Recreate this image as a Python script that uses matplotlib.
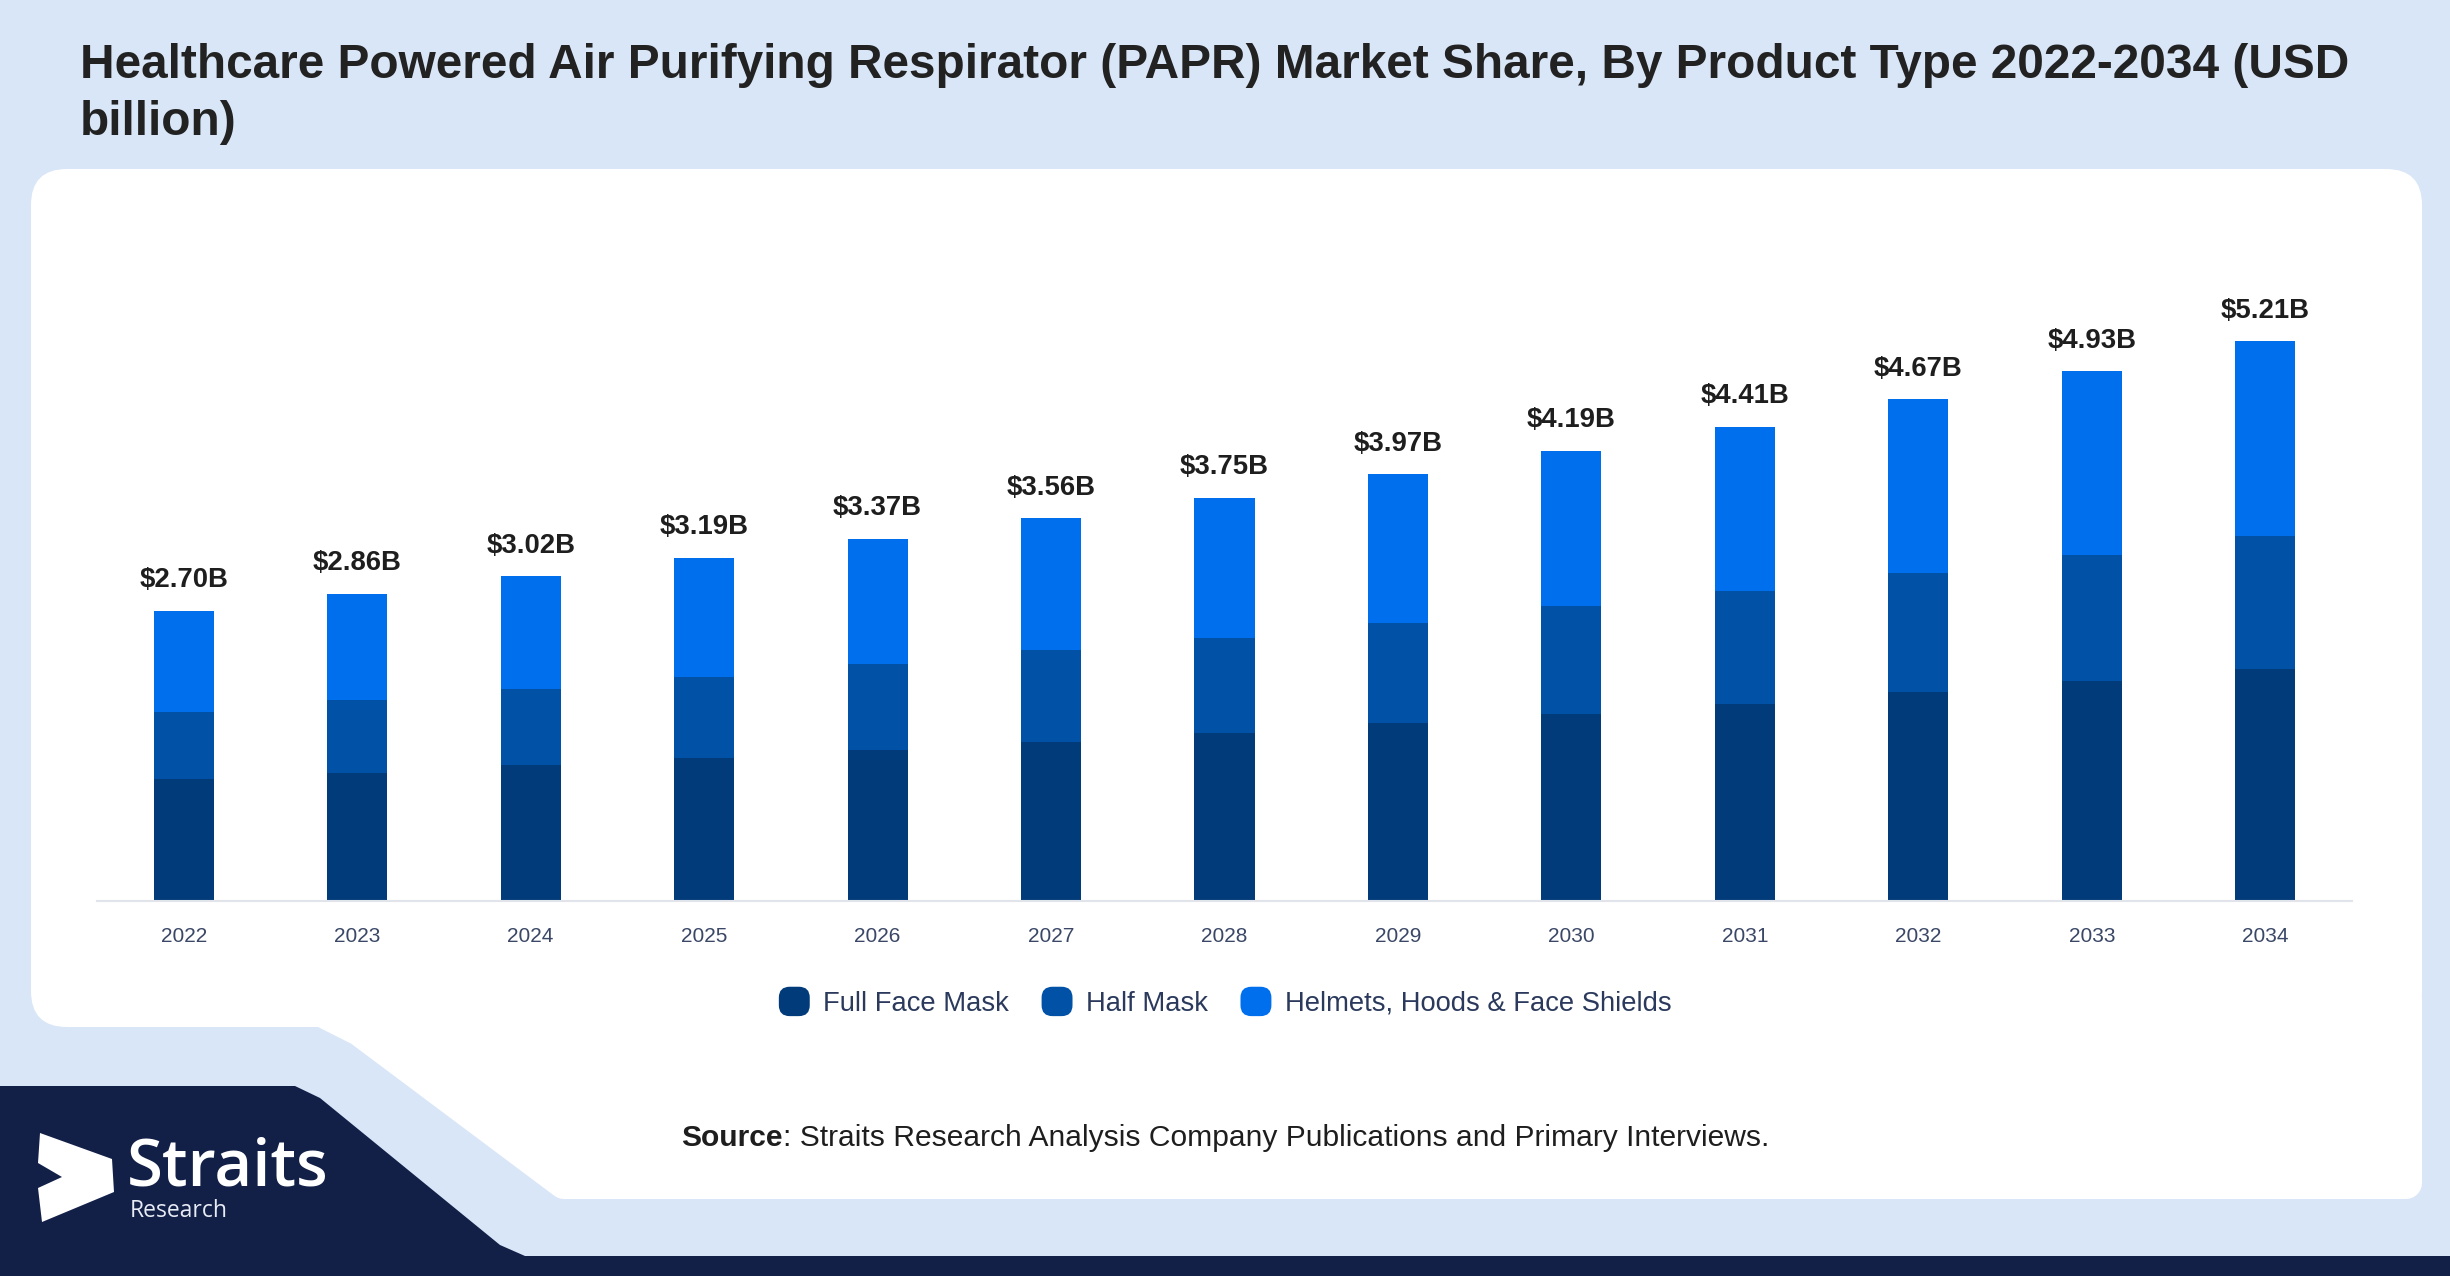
import matplotlib.pyplot as plt
from matplotlib.patches import FancyBboxPatch, Polygon, Patch
from matplotlib.legend_handler import HandlerPatch
import numpy as np

plt.rcParams["font.family"] = ["Liberation Sans", "DejaVu Sans"]

# data (USD billion)
years = ["2022", "2023", "2024", "2025", "2026", "2027", "2028",
         "2029", "2030", "2031", "2032", "2033", "2034"]
full_face = [1.13, 1.19, 1.26, 1.33, 1.40, 1.48, 1.56, 1.65, 1.74, 1.83, 1.94, 2.05, 2.16]
half_mask = [0.63, 0.68, 0.71, 0.75, 0.80, 0.85, 0.89, 0.94, 1.00, 1.05, 1.11, 1.17, 1.24]
helmets = [0.94, 0.99, 1.05, 1.11, 1.17, 1.23, 1.30, 1.38, 1.45, 1.53, 1.62, 1.71, 1.81]
totals = [2.70, 2.86, 3.02, 3.19, 3.37, 3.56, 3.75, 3.97, 4.19, 4.41, 4.67, 4.93, 5.21]
series_names = ["Full Face Mask", "Half Mask", "Helmets, Hoods & Face Shields"]
colors = ["#023B7A", "#0152A6", "#006FEE"]

W, H = 2450, 1276
fig = plt.figure(figsize=(W / 100, H / 100), dpi=100)
fig.patch.set_facecolor("#D9E6F8")

# background shapes in pixel coords
bg = fig.add_axes([0, 0, 1, 1])
bg.set_xlim(0, W)
bg.set_ylim(H, 0)
bg.axis("off")
bg.add_patch(FancyBboxPatch((31, 169), 2391, 858, boxstyle="round,pad=0,rounding_size=36",
                            fc="white", ec="none"))
r = 16
bg.add_patch(Polygon([(300, 1000), (2422 - r, 1000), (2422 - r, 1199 - r),
                      (548 + r, 1199 - r), (350 + r * 0.6, 1030)],
                     closed=True, fc="white", ec="white", lw=2 * r * 0.72, joinstyle="round"))
bg.add_patch(Polygon([(0, 1086), (295, 1086), (320, 1098), (500, 1245), (525, 1256),
                      (W, 1256), (W, H), (0, H)], closed=True, fc="#121F47", ec="none"))
# logo
bg.add_patch(Polygon([(40, 1133), (112, 1159), (114, 1192), (42, 1222), (38, 1188),
                      (62, 1177), (38, 1163)], closed=True, fc="white", ec="none"))
bg.text(127, 1186, "Straits", color="white", fontsize=47, fontweight="semibold",
        family=["Open Sans", "DejaVu Sans"], va="baseline", ha="left")
bg.text(130, 1217, "Research", color="#E8ECF5", fontsize=16.5,
        family=["Open Sans", "DejaVu Sans"], va="baseline", ha="left")

# title
fig.text(80 / W, 1 - 78 / H, "Healthcare Powered Air Purifying Respirator (PAPR) Market Share, By Product Type 2022-2034 (USD",
         fontsize=34.4, fontweight="bold", color="#222222", va="baseline", ha="left")
fig.text(80 / W, 1 - 135 / H, "billion)",
         fontsize=34.4, fontweight="bold", color="#222222", va="baseline", ha="left")

# chart
ax = fig.add_axes([97 / W, 1 - 900.7 / H, (2352 - 97) / W, (900.7 - 250) / H])
ax.set_facecolor("none")
x = np.arange(len(years))
bw = 0.346
bottom = np.zeros(len(years))
for vals, c, name in zip([full_face, half_mask, helmets], colors, series_names):
    ax.bar(x, vals, bw, bottom=bottom, color=c, label=name, zorder=2)
    bottom += np.array(vals)

for xi, t in zip(x, totals):
    ax.annotate(f"${t:.2f}B", (xi, t), xytext=(0, 17), textcoords="offset points",
                ha="center", va="baseline", fontsize=19.8, fontweight="bold", color="#1E1E1E")

ax.set_xlim(-0.5, 12.5)
ax.set_ylim(0, 650.7 / 107.4)
ax.set_xticks(x)
ax.set_xticklabels(years, fontsize=15, color="#3A4766")
ax.tick_params(axis="x", length=0, pad=19)
ax.set_yticks([])
for s in ["top", "right", "left"]:
    ax.spines[s].set_visible(False)
ax.spines["bottom"].set_color("#E1E4EA")
ax.spines["bottom"].set_linewidth(1.5)


class RoundHandler(HandlerPatch):
    def create_artists(self, legend, orig_handle, xdescent, ydescent, width, height, fontsize, trans):
        p = FancyBboxPatch((-xdescent, -ydescent - 0.1 * height), width, height * 1.2,
                           boxstyle=f"round,pad=0,rounding_size={width * 0.35}",
                           fc=orig_handle.get_facecolor(), ec="none", transform=trans)
        return [p]


handles = [Patch(facecolor=c, label=n) for c, n in zip(colors, series_names)]
fig.legend(handles=handles, loc="center", bbox_to_anchor=(0.5, 1 - 1003 / H), ncol=3,
           frameon=False, fontsize=19.7, handlelength=1.13, handleheight=1.0,
           handletextpad=0.48, columnspacing=1.2, labelcolor="#2B3A5C",
           handler_map={Patch: RoundHandler()})

# source
sx = 783 / W
fig.text(sx, 1 - 1146 / H, "Source", fontsize=21.6, fontweight="bold", color="#1E1E1E",
         ha="right", va="baseline")
fig.text(sx, 1 - 1146 / H, ": Straits Research Analysis Company Publications and Primary Interviews.",
         fontsize=21.6, color="#1E1E1E", ha="left", va="baseline")

fig.savefig("out.png", dpi=100, facecolor=fig.get_facecolor())
